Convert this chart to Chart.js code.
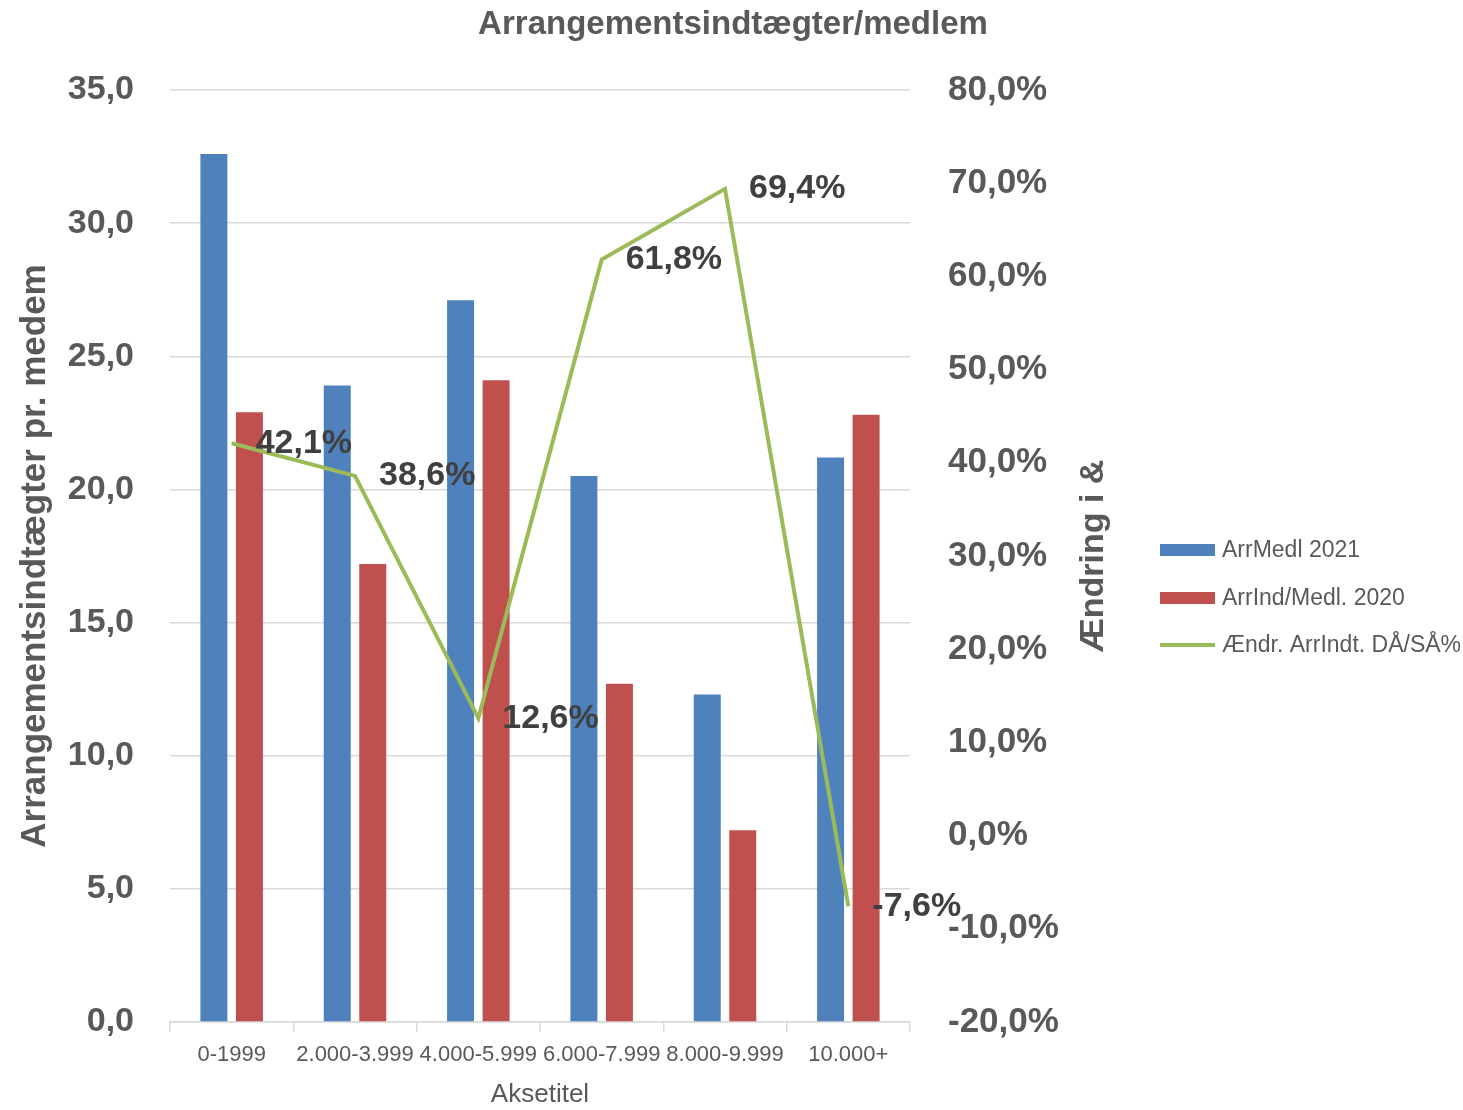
<!DOCTYPE html>
<html>
<head>
<meta charset="utf-8">
<script src="https://cdn.jsdelivr.net/npm/chart.js@4.4.0/dist/chart.umd.min.js"></script>
<style>
html,body{margin:0;padding:0;background:#fff;}
#wrap{width:1463px;height:1110px;position:relative;}
</style>
</head>
<body>
<div id="wrap"><canvas id="c" width="1463" height="1110"></canvas></div>
<script>
const categories = ["0-1999", "2.000-3.999", "4.000-5.999", "6.000-7.999", "8.000-9.999", "10.000+"];
const arrMedl2021 = [32.6, 23.9, 27.1, 20.5, 12.3, 21.2];
const arrindMedl2020 = [22.9, 17.2, 24.1, 12.7, 7.2, 22.8];
const aendrPct = [42.1, 38.6, 12.6, 61.8, 69.4, -7.6];
const leftTicks = [0, 5, 10, 15, 20, 25, 30, 35];
const rightTicks = [-20, -10, 0, 10, 20, 30, 40, 50, 60, 70, 80];
const seriesNames = ['ArrMedl 2021', 'ArrInd/Medl. 2020', 'Ændr. ArrIndt. DÅ/SÅ%'];
const chartTitle = 'Arrangementsindtægter/medlem';
const leftTitle = 'Arrangementsindtægter pr. medem';
const rightTitle = 'Ændring i &';
const xTitle = 'Aksetitel';

const FONT = "'Liberation Sans', Arial, sans-serif";
const GRAY = "#595959";

const fmt1 = v => v.toFixed(1).replace('.', ',');

const extras = {
  id: 'extras',
  afterDatasetsDraw(chart) {
    const ctx = chart.ctx;
    const meta = chart.getDatasetMeta(2);
    ctx.save();
    ctx.font = "bold 34px " + FONT;
    ctx.fillStyle = "#404040";
    ctx.textAlign = 'left';
    ctx.textBaseline = 'middle';
    meta.data.forEach((pt, i) => {
      ctx.fillText(fmt1(aendrPct[i]) + '%', pt.x + 24, pt.y);
    });
    ctx.restore();
  },
  afterDraw(chart) {
    const ctx = chart.ctx;
    const area = chart.chartArea;
    const midY = (area.top + area.bottom) / 2;
    // chart title
    ctx.save();
    ctx.font = "bold 33px " + FONT;
    ctx.fillStyle = GRAY;
    ctx.textAlign = 'center';
    ctx.textBaseline = 'middle';
    ctx.fillText(chartTitle, 733, 25);
    ctx.restore();
    // right axis title, rotated -90
    ctx.save();
    ctx.translate(1094, midY);
    ctx.rotate(-Math.PI / 2);
    ctx.font = "bold 34px " + FONT;
    ctx.fillStyle = GRAY;
    ctx.textAlign = 'center';
    ctx.textBaseline = 'middle';
    ctx.fillText(rightTitle, 0, 0);
    ctx.restore();
    // legend
    ctx.save();
    ctx.font = "23px " + FONT;
    ctx.textAlign = 'left';
    ctx.textBaseline = 'middle';
    const ys = [550, 598, 645];
    chart.data.datasets.forEach((ds, i) => {
      const y = ys[i];
      if (ds.type === 'line') {
        ctx.fillStyle = ds.borderColor;
        ctx.fillRect(1160, y - 2, 55, 4);
      } else {
        ctx.fillStyle = ds.backgroundColor;
        ctx.fillRect(1160, y - 6, 55, 12);
      }
      ctx.fillStyle = GRAY;
      ctx.fillText(ds.label, 1222, y + 1);
    });
    ctx.restore();
  }
};

new Chart(document.getElementById('c'), {
  type: 'bar',
  data: {
    labels: categories,
    datasets: [
      { label: seriesNames[0], data: arrMedl2021, backgroundColor: '#4f81bd', yAxisID: 'y', order: 1,
        categoryPercentage: 0.576, barPercentage: 0.76 },
      { label: seriesNames[1], data: arrindMedl2020, backgroundColor: '#c0504d', yAxisID: 'y', order: 1,
        categoryPercentage: 0.576, barPercentage: 0.76 },
      { label: seriesNames[2], data: aendrPct, type: 'line', borderColor: '#9bbb59', backgroundColor: '#9bbb59',
        borderWidth: 4, pointRadius: 0, tension: 0, yAxisID: 'y1', order: 0 }
    ]
  },
  options: {
    responsive: false,
    animation: false,
    layout: { padding: { left: 0, right: 313, top: 90, bottom: 0 } },
    plugins: {
      tooltip: { enabled: false },
      legend: { display: false },
      title: { display: false }
    },
    scales: {
      x: {
        grid: { display: true, offset: true, drawOnChartArea: false, drawTicks: true, tickLength: 10, color: '#d9d9d9', lineWidth: 1.5 },
        border: { display: true, color: '#d9d9d9', width: 1.5 },
        ticks: { color: GRAY, font: { family: FONT, size: 22 }, autoSkip: false, maxRotation: 0, minRotation: 0, padding: 10 },
        title: { display: true, text: xTitle, color: GRAY, font: { family: FONT, size: 26 }, padding: { top: 8, bottom: 0 } },
        afterFit(s) { s.height = 88; }
      },
      y: {
        position: 'left', min: 0, max: 35,
        afterBuildTicks(s) { s.ticks = leftTicks.map(v => ({ value: v })); },
        grid: { color: '#d9d9d9', lineWidth: 1.5, drawTicks: false },
        border: { display: false },
        ticks: { color: GRAY, font: { family: FONT, size: 34, weight: 'bold' }, padding: 36, callback: v => fmt1(v) },
        title: { display: true, text: leftTitle, color: GRAY, font: { family: FONT, size: 35, weight: 'bold' }, padding: { top: 14, bottom: 0 } },
        afterFit(s) { s.width = 170; }
      },
      y1: {
        position: 'right', min: -20, max: 80,
        afterBuildTicks(s) { s.ticks = rightTicks.map(v => ({ value: v })); },
        grid: { display: false, drawTicks: false },
        border: { display: false },
        ticks: { color: GRAY, font: { family: FONT, size: 35, weight: 'bold' }, padding: 38, callback: v => fmt1(v) + '%' },
        afterFit(s) { s.width = 240; }
      }
    }
  },
  plugins: [extras]
});
</script>
</body>
</html>
